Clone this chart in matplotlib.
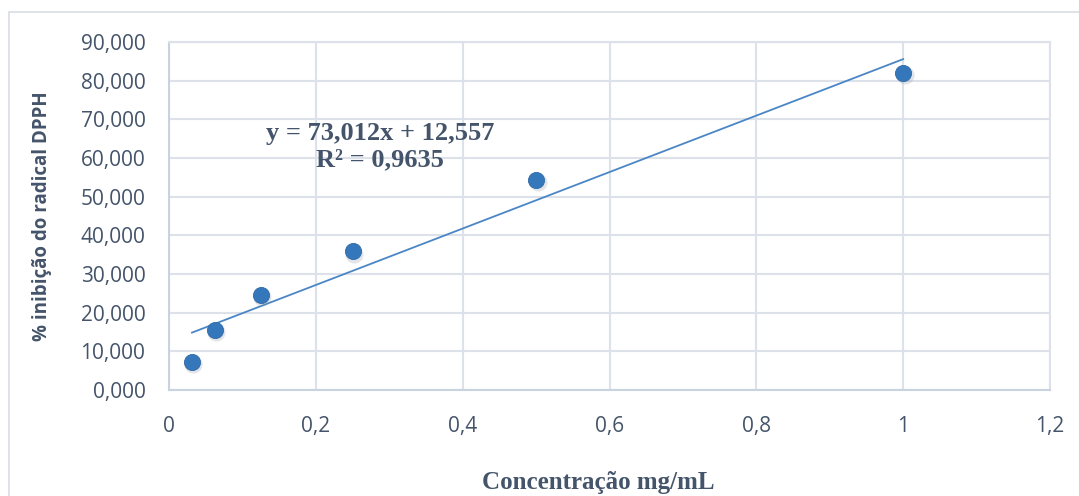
import numpy as np
import matplotlib.pyplot as plt
from matplotlib.patches import Rectangle
from matplotlib.ticker import FuncFormatter

# dados
conc = [0.03125, 0.0625, 0.125, 0.25, 0.5, 1.0]
inib = [7.2, 15.5, 24.6, 35.9, 54.3, 82.0]
slope, intercept = 73.012, 12.557
eq_txt = "y = 73,012x + 12,557\nR² = 0,9635"

fig = plt.figure(figsize=(10.79, 4.96), dpi=100)
ax = fig.add_axes([169/1079, 1 - 390/496, 881/1079, 348/496])

# moldura externa
fig.patches.append(Rectangle((9/1079, -0.1), 1.2, (496 - 12)/496 + 0.1,
                             transform=fig.transFigure, fill=False,
                             edgecolor="#d9dde3", linewidth=1.2))

grid_c = "#dde2ea"
ax.set_xlim(0, 1.2)
ax.set_ylim(0, 90)
ax.set_xticks(np.arange(0, 1.21, 0.2))
ax.set_yticks(np.arange(0, 91, 10))
ax.grid(True, color=grid_c, linewidth=1.5)
ax.set_axisbelow(True)
for s in ax.spines.values():
    s.set_color(grid_c)
    s.set_linewidth(1.5)
ax.spines["left"].set_color("#c9d3e0")
ax.spines["bottom"].set_color("#c9d3e0")

txt_c = "#44546a"
ax.xaxis.set_major_formatter(FuncFormatter(lambda v, p: ("%g" % round(v, 1)).replace(".", ",")))
ax.yaxis.set_major_formatter(FuncFormatter(lambda v, p: "%d,000" % v))
ax.tick_params(length=0, labelsize=15, labelcolor=txt_c)
ax.tick_params(axis="y", pad=17)
ax.tick_params(axis="x", pad=19)
for lb in ax.get_xticklabels() + ax.get_yticklabels():
    lb.set_fontfamily("Open Sans")

# linha de tendência
xt = np.array([min(conc), max(conc)])
ax.plot(xt, slope * xt + intercept, color="#4a86c5", linewidth=1.3, zorder=2)

# pontos com sombra
ax.scatter(np.array(conc) + 0.002, np.array(inib) - 0.6, s=170, color="#8d99a8",
           alpha=0.25, linewidths=0, zorder=3)
ax.scatter(conc, inib, s=135, color="#3577bb", edgecolors="#2f6aa8",
           linewidths=0.6, zorder=4)

ax.text(0.287, 63.0, eq_txt, ha="center", va="center",
        fontsize=19, fontweight="bold", family="Liberation Serif", color=txt_c,
        linespacing=1.2)

fig.text(42/1079, 1 - 216/496, "% inibição do radical DPPH", rotation=90,
         ha="center", va="center", fontsize=13.5, fontweight="bold",
         family="Open Sans", color=txt_c)
fig.text(598/1079, 1 - 482/496, "Concentração mg/mL", ha="center", va="center",
         fontsize=18, fontweight="bold", family="Liberation Serif", color=txt_c)

fig.savefig("out.png", dpi=100, facecolor="white")
